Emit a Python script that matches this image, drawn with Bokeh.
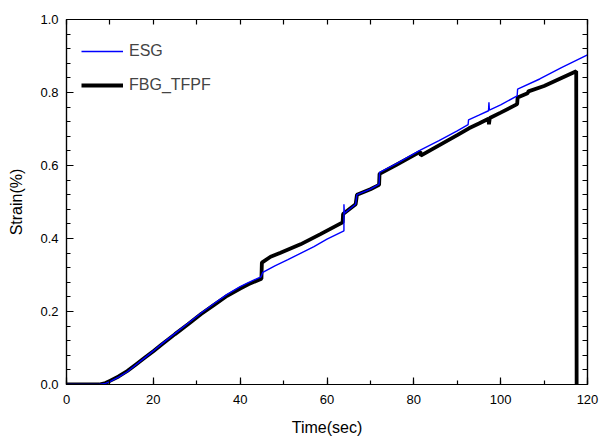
import numpy as np
from bokeh.plotting import figure
from bokeh.models import (Range1d, LinearAxis, SingleIntervalTicker, FixedTicker,
                          NumeralTickFormatter, Legend, LegendItem)
from bokeh.embed import file_html
from bokeh.resources import INLINE

# ---- data ----
esg_t = [0, 7.5, 9, 10, 12, 14, 16, 18, 20, 22, 25, 28, 31, 34, 37, 40, 42, 44.8, 45.2,
         48, 51, 54, 57, 60, 63.9, 63.9, 64.0, 64.1, 66.6, 66.9, 70, 72, 72.1, 76, 81.6,
         85.8, 90, 92.5, 92.6, 95, 97.2, 97.3, 97.4, 100, 103.8, 103.9, 109, 114, 120]
esg_v = [0, 0, 0.003, 0.008, 0.02, 0.035, 0.054, 0.073, 0.092, 0.112, 0.14, 0.168, 0.196,
         0.222, 0.247, 0.268, 0.28, 0.295, 0.307, 0.325, 0.342, 0.36, 0.378, 0.398, 0.421,
         0.494, 0.47, 0.47, 0.494, 0.52, 0.535, 0.549, 0.581, 0.605, 0.643, 0.668, 0.695,
         0.712, 0.725, 0.738, 0.75, 0.773, 0.752, 0.766, 0.791, 0.809, 0.837, 0.868, 0.903]

fbg_t = [0, 7.5, 9, 10, 12, 14, 16, 18, 20, 22, 25, 28, 31, 34, 37, 40, 42, 44.9, 45.0,
         47, 49.3, 53.9, 58.5, 63.6, 63.7, 66.6, 66.9, 70, 72, 72.1, 76, 81.5, 81.6, 85.8,
         90, 92.7, 95, 97.2, 97.3, 97.5, 100, 103.8, 103.9, 106.2, 106.4, 110, 117.4, 117.5]
fbg_v = [0, 0, 0.004, 0.01, 0.022, 0.037, 0.055, 0.073, 0.091, 0.11, 0.138, 0.165, 0.193,
         0.218, 0.243, 0.263, 0.275, 0.29, 0.334, 0.35, 0.361, 0.384, 0.412, 0.444, 0.467,
         0.494, 0.52, 0.535, 0.547, 0.577, 0.602, 0.638, 0.627, 0.655, 0.683, 0.702, 0.715,
         0.728, 0.713, 0.73, 0.745, 0.768, 0.786, 0.798, 0.803, 0.818, 0.858, 0]

x_major_step = 20
x_minor_step = 10
y_major_step = 0.2
y_minor_step = 0.04

FONT = "Liberation Sans"

p = figure(frame_width=521, frame_height=365, output_backend="svg", toolbar_location=None,
           x_range=Range1d(0, 120), y_range=Range1d(0, 1.0),
           min_border_left=66, min_border_right=13, min_border_top=19, min_border_bottom=54,
           x_axis_label="Time(sec)", y_axis_label="Strain(%)")
p.grid.visible = False
p.outline_line_color = "black"
p.outline_line_width = 1.2
p.background_fill_color = "white"
p.border_fill_color = "white"

fbg = p.line(fbg_t, fbg_v, line_color="black", line_width=3.8)
esg = p.line(esg_t, esg_v, line_color="#0000ff", line_width=1.4)

xt = SingleIntervalTicker(interval=x_major_step, num_minor_ticks=2)
yt = SingleIntervalTicker(interval=y_major_step, num_minor_ticks=5)


def style(ax):
    ax.major_tick_in = 7
    ax.major_tick_out = 0
    ax.minor_tick_in = 4
    ax.minor_tick_out = 0
    ax.axis_line_color = "black"
    ax.axis_line_width = 1.2
    ax.major_tick_line_color = "black"
    ax.minor_tick_line_color = "black"
    ax.major_tick_line_width = 1.2
    ax.minor_tick_line_width = 1.2
    ax.major_label_text_font = FONT
    ax.major_label_text_font_size = "13px"
    ax.major_label_text_color = "black"
    ax.axis_label_text_font = FONT
    ax.axis_label_text_font_size = "16px"
    ax.axis_label_text_font_style = "normal"
    ax.axis_label_text_color = "black"


p.xaxis[0].ticker = xt
p.yaxis[0].ticker = yt
p.yaxis[0].formatter = NumeralTickFormatter(format="0.0")
style(p.xaxis[0])
style(p.yaxis[0])
p.xaxis[0].major_label_standoff = 10
p.xaxis[0].axis_label_standoff = 12
p.yaxis[0].major_label_standoff = 8
p.yaxis[0].axis_label_standoff = 12

# mirrored axes: only (uniform) ticks, no labels
top_ticks = FixedTicker(ticks=[], minor_ticks=list(np.arange(0, 120.001, x_minor_step)))
right_ticks = FixedTicker(ticks=[], minor_ticks=list(np.round(np.arange(0, 1.0001, y_minor_step), 2)))
for ax_ticker, side in ((top_ticks, "above"), (right_ticks, "right")):
    ax = LinearAxis(ticker=ax_ticker)
    ax.major_tick_in = 0
    ax.major_tick_out = 0
    ax.minor_tick_in = 5
    ax.minor_tick_out = 0
    ax.axis_line_color = "black"
    ax.axis_line_width = 1.2
    ax.minor_tick_line_color = "black"
    ax.minor_tick_line_width = 1.2
    p.add_layout(ax, side)

legend = Legend(items=[LegendItem(label="ESG", renderers=[esg]),
                       LegendItem(label="FBG_TFPF", renderers=[fbg])],
                location=(15, 289), border_line_color=None, background_fill_alpha=0,
                padding=0, margin=0, spacing=14, glyph_width=42, glyph_height=20,
                label_height=20, label_text_font=FONT, label_text_font_size="16px",
                label_standoff=6)
p.add_layout(legend, "center")

open("out.html", "w").write(file_html(p, INLINE))
